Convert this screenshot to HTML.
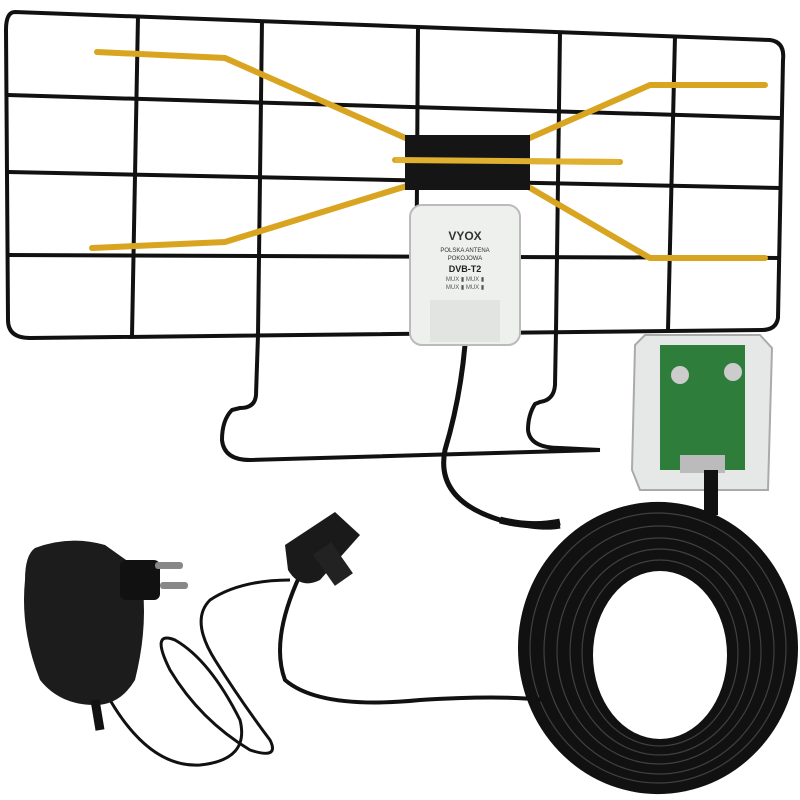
<!DOCTYPE html>
<html><head><meta charset="utf-8"><style>html,body{margin:0;padding:0;background:#fff}svg{display:block}</style></head>
<body>
<svg width="800" height="800" viewBox="0 0 800 800" xmlns="http://www.w3.org/2000/svg">
<rect width="800" height="800" fill="#fff"/>
<g fill="none" stroke="#111" stroke-width="4" stroke-linejoin="round">
<path d="M15,12 L770,40 Q785,42 783,60 L778,318 Q776,330 762,330 L30,338 Q8,338 8,320 L6,30 Q6,12 15,12Z"/>
<path d="M8,95 L780,118"/>
<path d="M8,172 L780,188"/>
<path d="M8,255 L780,258"/>
<path d="M138,16 L132,336"/>
<path d="M262,20 L258,335"/>
<path d="M418,26 L416,333"/>
<path d="M560,32 L556,331"/>
<path d="M675,36 L668,330"/>
<path d="M258,335 L256,395 Q255,408 240,408 L232,410 Q222,420 222,440 Q224,460 250,460 L600,450"/>
<path d="M556,331 L555,385 Q554,400 540,402 L535,404 Q528,415 528,430 Q530,448 560,448 L600,450"/>
</g>
<g fill="none" stroke="#d9a520" stroke-width="6" stroke-linecap="round" stroke-linejoin="round">
<path d="M97,52 L225,58 L410,140"/>
<path d="M92,248 L225,242 L410,185"/>
<path d="M765,85 L650,85 L525,140"/>
<path d="M765,258 L650,258 L525,185"/>
<path d="M395,160 L620,162"/>
</g>
<rect x="405" y="135" width="125" height="55" fill="#151515"/>
<line x1="395" y1="160" x2="620" y2="162" stroke="#e0b030" stroke-width="6"/>
<path d="M465,345 Q460,400 445,450 Q435,500 500,520 Q540,530 560,526" fill="none" stroke="#111" stroke-width="5"/>
<rect x="410" y="205" width="110" height="140" rx="12" fill="#eef0ee" stroke="#bbb" stroke-width="2"/>
<rect x="430" y="300" width="70" height="42" fill="#e2e4e2"/>
<text x="465" y="240" font-family="Liberation Sans,sans-serif" font-size="12" font-weight="bold" text-anchor="middle" fill="#333">VYOX</text>
<text x="465" y="252" font-family="Liberation Sans,sans-serif" font-size="6" text-anchor="middle" fill="#333">POLSKA ANTENA</text>
<text x="465" y="260" font-family="Liberation Sans,sans-serif" font-size="6" text-anchor="middle" fill="#333">POKOJOWA</text>
<text x="465" y="272" font-family="Liberation Sans,sans-serif" font-size="9" font-weight="bold" text-anchor="middle" fill="#222">DVB-T2</text>
<text x="465" y="281" font-family="Liberation Sans,sans-serif" font-size="6" text-anchor="middle" fill="#555">MUX ▮ MUX ▮</text>
<text x="465" y="289" font-family="Liberation Sans,sans-serif" font-size="6" text-anchor="middle" fill="#555">MUX ▮ MUX ▮</text>
<path d="M635,345 L645,335 L760,335 L772,348 L768,490 L640,490 L632,470Z" fill="#e6e8e8" stroke="#aaa" stroke-width="2"/>
<rect x="660" y="345" width="85" height="125" fill="#2f7d3a"/>
<circle cx="680" cy="375" r="9" fill="#ccc"/><circle cx="733" cy="372" r="9" fill="#ccc"/>
<rect x="680" y="455" width="45" height="18" fill="#bbb"/>
<rect x="704" y="470" width="14" height="45" fill="#111"/>
<!-- coil -->
<path fill="#111" fill-rule="evenodd" d="M518,648 A140,146 0 1,0 798,648 A140,146 0 1,0 518,648Z M593,655 A67,84 0 1,0 727,655 A67,84 0 1,0 593,655Z"/>
<g fill="none" stroke="#555" stroke-width="1.2" opacity="0.7">
<ellipse cx="658" cy="648" rx="128" ry="135"/>
<ellipse cx="659" cy="650" rx="115" ry="124"/>
<ellipse cx="659" cy="651" rx="102" ry="113"/>
<ellipse cx="660" cy="652" rx="90" ry="103"/>
<ellipse cx="660" cy="653" rx="78" ry="93"/>
</g>
<path d="M500,520 Q530,528 560,522" stroke="#111" stroke-width="7" fill="none"/>
<path d="M300,575 Q270,640 285,680 Q320,710 420,700 Q500,695 545,700" fill="none" stroke="#111" stroke-width="4"/>
<path d="M285,545 L335,512 L360,535 L320,580 Q300,590 288,570Z" fill="#1a1a1a"/>
<rect x="322" y="545" width="22" height="38" transform="rotate(-35 333 564)" fill="#222"/>
<path d="M290,580 Q240,580 210,600 Q190,620 215,660 Q240,700 270,740 Q280,760 250,750 Q200,720 170,670 Q150,630 175,640 Q210,660 240,720 Q250,760 200,765 Q150,768 110,700" fill="none" stroke="#111" stroke-width="3"/>
<path d="M35,548 Q70,535 105,545 L140,570 Q150,620 135,680 Q120,705 95,705 Q60,705 40,680 Q20,630 25,580 Q25,555 35,548Z" fill="#1c1c1c"/>
<rect x="120" y="560" width="40" height="40" rx="6" fill="#111"/>
<rect x="155" y="562" width="28" height="7" rx="3" fill="#888"/>
<rect x="160" y="582" width="28" height="7" rx="3" fill="#888"/>
<path d="M95,700 L100,730" stroke="#111" stroke-width="9"/>
</svg>
</body></html>
